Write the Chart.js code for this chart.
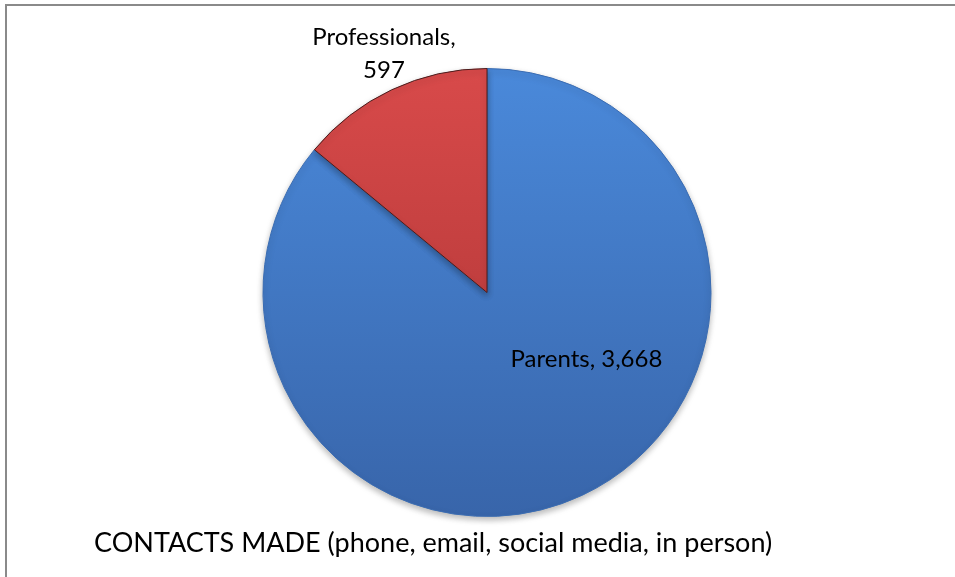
<!DOCTYPE html>
<html>
<head>
<meta charset="utf-8">
<script src="https://cdn.jsdelivr.net/npm/chart.js@4.4.1/dist/chart.umd.min.js"></script>
<style>
  html, body { margin: 0; padding: 0; background: #ffffff; }
  #wrap { position: relative; width: 955px; height: 577px; overflow: hidden; }
  #frame { position: absolute; left: 5px; top: 4px; width: 1000px; height: 1000px;
           border-top: 2px solid #8a8a8a; border-left: 2px solid #8a8a8a; box-sizing: border-box; pointer-events: none; }
  canvas { position: absolute; left: 0; top: 0; }
</style>
</head>
<body>
<div id="wrap">
  <canvas id="c" width="955" height="577"></canvas>
  <div id="frame"></div>
</div>
<script>
const categories = ["Parents", "Professionals"];
const values = [3668, 597];
const titleText = "CONTACTS MADE (phone, email, social media, in person)";

const FONT = "Lato, 'Noto Sans', sans-serif";

function vertGrad(ctx, area, top, bottom) {
  const g = ctx.createLinearGradient(0, area.top, 0, area.bottom);
  g.addColorStop(0, top);
  g.addColorStop(1, bottom);
  return g;
}

const shadowPlugin = {
  id: 'pieShadow',
  beforeDatasetDraw(chart) {
    const ctx = chart.ctx;
    ctx.save();
    ctx.shadowColor = 'rgba(0,0,0,0.28)';
    ctx.shadowBlur = 6;
    ctx.shadowOffsetY = 3;
  },
  afterDatasetDraw(chart) {
    chart.ctx.restore();
  }
};

const labelPlugin = {
  id: 'sliceLabels',
  afterDatasetsDraw(chart) {
    const ctx = chart.ctx;
    const meta = chart.getDatasetMeta(0);
    ctx.save();
    ctx.fillStyle = '#000000';
    ctx.font = "24px " + FONT;
    ctx.textAlign = 'center';
    ctx.textBaseline = 'middle';
    meta.data.forEach((arc, i) => {
      const r = arc.outerRadius;
      const fmt = values[i].toLocaleString('en-US');
      if (i === 0) {
        ctx.fillText(categories[i] + ", " + fmt, arc.x + 0.444 * r, arc.y + 0.297 * r);
      } else {
        ctx.fillText(categories[i] + ",", arc.x - 0.46 * r, arc.y - 1.14 * r);
        ctx.fillText(fmt, arc.x - 0.46 * r, arc.y - 0.99 * r);
      }
    });
    ctx.restore();
  }
};

new Chart(document.getElementById('c'), {
  type: 'pie',
  data: {
    labels: categories,
    datasets: [{
      data: values,
      backgroundColor(context) {
        const area = context.chart.chartArea;
        if (!area) return context.dataIndex === 0 ? '#4279c6' : '#c84040';
        return context.dataIndex === 0
          ? vertGrad(context.chart.ctx, area, '#4a89da', '#3865aa')
          : vertGrad(context.chart.ctx, area, '#d84a4a', '#a83232');
      },
      borderColor: ['#3a6cb2', '#4a1c1c'],
      borderWidth: 1,
      hoverOffset: 0
    }]
  },
  options: {
    responsive: false,
    devicePixelRatio: 1,
    animation: false,
    layout: { padding: { left: 94, right: 75, top: 68, bottom: 0 } },
    plugins: {
      legend: { display: false },
      tooltip: { enabled: false },
      title: {
        display: true,
        text: titleText,
        position: 'bottom',
        align: 'start',
        color: '#000000',
        font: { family: FONT, size: 27, weight: 'normal', lineHeight: 1.2 },
        padding: { top: 10, bottom: 17.6 }
      }
    }
  },
  plugins: [shadowPlugin, labelPlugin]
});
</script>
</body>
</html>
